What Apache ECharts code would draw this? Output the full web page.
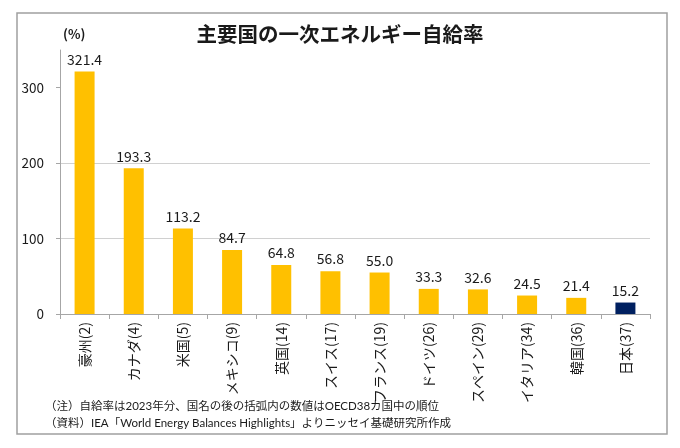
<!DOCTYPE html>
<html>
<head>
<meta charset="utf-8">
<script src="https://cdn.jsdelivr.net/npm/echarts@6/dist/echarts.min.js"></script>
<style>
  html, body { margin: 0; padding: 0; background: #fff; }
  #container { width: 680px; height: 448px; }
</style>
</head>
<body>
<div id="container"></div>
<script>
var countries = ['豪州(2)', 'カナダ(4)', '米国(5)', 'メキシコ(9)', '英国(14)', 'スイス(17)',
    'フランス(19)', 'ドイツ(26)', 'スペイン(29)', 'イタリア(34)', '韓国(36)', '日本(37)'];
var selfSufficiency = [321.4, 193.3, 113.2, 84.7, 64.8, 56.8, 55.0, 33.3, 32.6, 24.5, 21.4, 15.2];
var yTicks = [0, 100, 200, 300];
var noteLines = [
    '（注）自給率は2023年分、国名の後の括弧内の数値はOECD38カ国中の順位',
    '（資料）IEA「World Energy Balances Highlights」よりニッセイ基礎研究所作成'
];

var font = '"Noto Sans CJK JP", "Noto Sans", sans-serif';
// narrower latin glyphs in the notes, CJK falls back to Noto
var noteFont = 'Lato, "Noto Sans CJK JP", sans-serif';

var dom = document.getElementById('container');
var myChart = echarts.init(dom, null, { renderer: 'canvas' });

var barData = selfSufficiency.map(function (v, i) {
    // Japan is highlighted in navy
    var color = countries[i].indexOf('日本') === 0 ? '#002060' : '#FFC000';
    return { value: v, itemStyle: { color: color } };
});

var option = {
    animation: false,
    textStyle: { fontFamily: font },
    title: {
        text: '主要国の一次エネルギー自給率',
        left: 'center',
        top: 24,
        padding: 0,
        textStyle: { fontSize: 20.5, fontWeight: 'bold', color: '#1a1a1a', fontFamily: font }
    },
    grid: { left: 60, right: 30, top: 50, bottom: 134, containLabel: false },
    xAxis: {
        type: 'category',
        data: countries,
        axisLine: { lineStyle: { color: '#a6a6a6', width: 1 } },
        axisTick: { show: true, interval: 0, length: 5, lineStyle: { color: '#a6a6a6' } },
        axisLabel: {
            interval: 0,
            rotate: 90,
            margin: 8,
            fontSize: 14,
            color: '#1a1a1a',
            fontFamily: font
        }
    },
    yAxis: {
        type: 'value',
        min: 0,
        max: 350,
        interval: 100,
        axisLine: { show: true, lineStyle: { color: '#a6a6a6' } },
        axisTick: { show: true, length: 4, customValues: yTicks, lineStyle: { color: '#a6a6a6' } },
        axisLabel: { customValues: yTicks, margin: 16, fontSize: 13.5, color: '#1a1a1a', fontFamily: font },
        splitLine: { show: true, showMaxLine: false, lineStyle: { color: '#d0d0d0' } }
    },
    series: [{
        type: 'bar',
        data: barData,
        barWidth: 20,
        label: {
            show: true,
            position: 'top',
            distance: 5,
            fontSize: 14,
            color: '#1a1a1a',
            fontFamily: font,
            formatter: function (p) { return p.value.toFixed(1); }
        }
    }],
    graphic: [
        {
            type: 'rect',
            shape: { x: 17, y: 13, width: 650, height: 421 },
            style: { fill: 'none', stroke: '#a0a0a0', lineWidth: 1.5 },
            silent: true
        },
        {
            type: 'text',
            left: 63,
            top: 28,
            style: { text: '(%)', fontSize: 13, fontWeight: 'bold', fill: '#1a1a1a', fontFamily: font }
        },
        {
            type: 'text',
            left: 45,
            top: 401,
            style: { text: noteLines[0], fontSize: 11.5, fill: '#1a1a1a', fontFamily: noteFont }
        },
        {
            type: 'text',
            left: 45,
            top: 418,
            style: { text: noteLines[1], fontSize: 11.5, fill: '#1a1a1a', fontFamily: noteFont }
        }
    ]
};

myChart.setOption(option);
window.addEventListener('resize', myChart.resize);
</script>
</body>
</html>
